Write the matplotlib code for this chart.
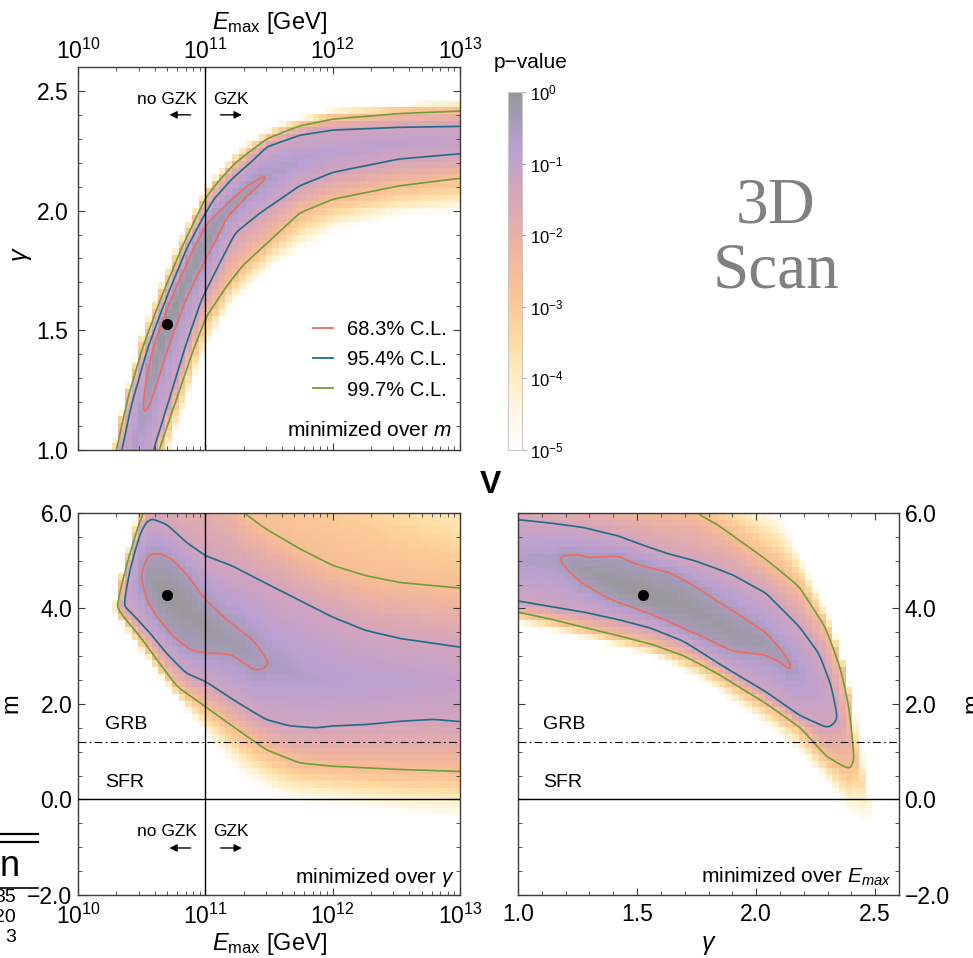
#!/usr/bin/env python3
import math
import numpy as np
import matplotlib
matplotlib.use("Agg")
from matplotlib import pyplot as plt
from matplotlib.colors import LinearSegmentedColormap, LogNorm
from matplotlib.cm import ScalarMappable
from matplotlib.lines import Line2D
from matplotlib.ticker import FixedLocator, MultipleLocator, FuncFormatter, NullLocator

plt.rcParams['font.family'] = ['Liberation Sans', 'DejaVu Sans']
plt.rcParams['mathtext.fontset'] = 'custom'
plt.rcParams['mathtext.rm'] = 'Liberation Sans'
plt.rcParams['mathtext.it'] = 'Liberation Sans:italic'
plt.rcParams['mathtext.bf'] = 'Liberation Sans:bold'

# ---- data ----------------------------------------------------------------
# each panel: a ridge line (centre of the valley, with its sigma value) and the
# lower/upper edges of the 1, 2, 3 sigma contours plus the edge where p -> 1e-5
# panel A: gamma vs log10(Emax/GeV), minimized over m
A_ridge_x = [10.0, 10.3, 10.5, 10.6, 10.7, 10.8, 10.9, 11.0, 11.2, 11.35, 11.503, 11.75, 12.0, 12.5, 13.0]
A_ridge_y = [0.10, 0.72, 1.147, 1.37, 1.53, 1.65, 1.76, 1.87, 2.017, 2.09, 2.145, 2.21, 2.25, 2.283, 2.295]
A_ridge_s = [1.6, 1.3, 1.0, 0.4, 0.0, 0.15, 0.3, 0.4, 0.6, 0.8, 1.0, 1.25, 1.4, 1.5, 1.6]
A_red_lo_x = [10.50, 10.54, 10.579, 10.697, 10.84, 11.0, 11.076, 11.168, 11.325, 11.469, 11.503]
A_red_lo_y = [1.147, 1.16, 1.21, 1.419, 1.628, 1.796, 1.87, 1.975, 2.061, 2.128, 2.145]
A_red_hi_x = [10.50, 10.503, 10.579, 10.724, 10.90, 11.0, 11.168, 11.325, 11.482, 11.503]
A_red_hi_y = [1.147, 1.22, 1.419, 1.628, 1.838, 1.943, 2.025, 2.103, 2.156, 2.145]
A_blue_lo_x = [10.0, 10.3, 10.605, 10.724, 10.84, 10.971, 11.10, 11.233, 11.429, 11.586, 11.741, 12.003, 12.526, 13.0]
A_blue_lo_y = [-0.07, 0.46, 1.0, 1.21, 1.419, 1.628, 1.768, 1.908, 1.991, 2.047, 2.103, 2.159, 2.215, 2.236]
A_blue_hi_x = [10.0, 10.338, 10.421, 10.544, 10.691, 10.848, 11.063, 11.20, 11.377, 11.479, 11.741, 12.003, 12.526, 13.0]
A_blue_hi_y = [0.26, 1.0, 1.21, 1.419, 1.628, 1.838, 2.047, 2.13, 2.215, 2.271, 2.32, 2.341, 2.351, 2.355]
A_green_lo_x = [10.0, 10.3, 10.63, 10.77, 10.906, 11.01, 11.168, 11.30, 11.482, 11.741, 12.003, 12.526, 13.0]
A_green_lo_y = [-0.2, 0.35, 1.0, 1.21, 1.419, 1.558, 1.68, 1.77, 1.86, 1.99, 2.047, 2.103, 2.135]
A_green_hi_x = [10.0, 10.298, 10.382, 10.50, 10.644, 10.809, 10.99, 11.10, 11.23, 11.479, 11.741, 12.003, 12.526, 13.0]
A_green_hi_y = [0.36, 1.0, 1.21, 1.419, 1.628, 1.838, 2.047, 2.125, 2.20, 2.299, 2.355, 2.383, 2.408, 2.418]
A_fade_lo_x = [10.0, 10.72, 10.9, 11.0, 11.2, 11.5, 12.0, 12.5, 13.0]
A_fade_lo_y = [-0.45, 1.0, 1.26, 1.41, 1.6, 1.75, 1.91, 1.97, 1.99]
A_fade_hi_x = [10.0, 10.26, 10.5, 10.8, 11.0, 11.3, 11.6, 12.0, 13.0]
A_fade_hi_y = [0.45, 1.0, 1.50, 1.90, 2.10, 2.28, 2.37, 2.43, 2.465]
A_best = (10.70, 1.527)

# panel B: m vs log10(Emax/GeV), minimized over gamma
B_ridge_x = [10.27, 10.30, 10.353, 10.497, 10.6, 10.7, 10.85, 11.0, 11.2, 11.374, 11.5, 11.8, 12.2, 12.6, 13.0]
B_ridge_y = [4.0, 4.04, 4.04, 4.7, 4.5, 4.29, 3.95, 3.6, 3.3, 3.0, 2.85, 2.6, 2.45, 2.45, 2.4]
B_ridge_s = [4.42, 3.0, 2.0, 1.0, 0.3, 0.0, 0.2, 0.3, 0.5, 0.8, 1.0, 1.2, 1.4, 1.5, 1.6]
B_red_lo_x = [10.497, 10.50, 10.537, 10.615, 10.746, 10.877, 11.0, 11.113, 11.217, 11.374, 11.453, 11.5]
B_red_lo_y = [4.7, 4.45, 4.18, 3.83, 3.41, 3.13, 3.06, 3.06, 3.03, 2.71, 2.71, 2.85]
B_red_hi_x = [10.497, 10.50, 10.563, 10.641, 10.746, 10.851, 11.0, 11.165, 11.27, 11.374, 11.453, 11.5]
B_red_hi_y = [4.7, 4.88, 5.14, 5.16, 5.02, 4.74, 4.18, 3.76, 3.55, 3.34, 3.06, 2.85]
B_blue_lo_x = [10.353, 10.432, 10.563, 10.694, 10.851, 11.0, 11.217, 11.479, 11.662, 11.87, 12.0, 12.26, 12.53, 12.79, 13.0]
B_blue_lo_y = [4.04, 3.83, 3.48, 3.06, 2.64, 2.47, 2.08, 1.66, 1.53, 1.49, 1.53, 1.56, 1.63, 1.67, 1.62]
B_blue_hi_x = [10.353, 10.37, 10.40, 10.44, 10.48, 10.53, 10.576, 10.694, 10.851, 11.0, 11.217, 11.479, 11.741, 12.0, 12.26, 12.53, 13.0]
B_blue_hi_y = [4.04, 4.4, 4.85, 5.25, 5.6, 5.82, 5.89, 5.75, 5.36, 5.09, 4.88, 4.53, 4.18, 3.83, 3.55, 3.38, 3.2]
B_green_lo_x = [10.30, 10.353, 10.484, 10.615, 10.77, 11.0, 11.217, 11.48, 11.74, 12.0, 12.53, 13.0]
B_green_lo_y = [4.04, 3.83, 3.41, 2.92, 2.36, 1.94, 1.53, 1.04, 0.76, 0.69, 0.62, 0.58]
B_green_hi_x = [10.30, 10.314, 10.353, 10.432, 10.51, 10.7, 11.0, 11.15, 11.296, 11.479, 11.741, 12.0, 12.26, 12.53, 13.0]
B_green_hi_y = [4.04, 4.32, 4.67, 5.36, 6.0, 6.9, 7.2, 6.8, 6.0, 5.64, 5.23, 4.88, 4.67, 4.53, 4.42]
B_fade_lo_x = [10.27, 10.30, 10.35, 10.5, 10.7, 11.0, 11.3, 11.6, 12.0, 12.5, 13.0]
B_fade_lo_y = [4.0, 3.85, 3.62, 3.05, 2.36, 1.35, 0.45, 0.0, -0.15, -0.3, -0.4]
B_fade_hi_x = [10.27, 10.30, 10.36, 10.43, 10.49, 10.7, 11.0, 11.5, 12.0, 12.5, 13.0]
B_fade_hi_y = [4.0, 4.3, 5.0, 5.7, 6.3, 8.0, 9.0, 9.5, 9.5, 8.0, 7.0]
B_best = (10.70, 4.29)

# panel C: m vs gamma, minimized over Emax
C_ridge_x = [1.0, 1.176, 1.3, 1.525, 1.7, 1.9, 2.05, 2.154, 2.25, 2.346, 2.415, 2.495]
C_ridge_y = [5.0, 5.05, 4.76, 4.29, 4.05, 3.53, 3.22, 2.75, 2.4, 1.70, 0.85, -0.45]
C_ridge_s = [1.15, 1.0, 0.3, 0.0, 0.2, 0.4, 0.6, 1.0, 1.5, 2.0, 3.0, 4.42]
C_red_lo_x = [1.176, 1.182, 1.251, 1.349, 1.419, 1.489, 1.559, 1.628, 1.698, 1.782, 1.838, 1.902, 2.042, 2.112, 2.133, 2.154]
C_red_lo_y = [5.05, 4.95, 4.60, 4.29, 4.12, 4.01, 3.87, 3.73, 3.56, 3.38, 3.24, 3.10, 3.03, 2.85, 2.70, 2.75]
C_red_hi_x = [1.176, 1.182, 1.251, 1.293, 1.419, 1.489, 1.559, 1.628, 1.698, 1.768, 1.838, 1.902, 2.042, 2.126, 2.154]
C_red_hi_y = [5.05, 5.11, 5.13, 5.06, 5.11, 4.95, 4.85, 4.78, 4.60, 4.39, 4.15, 3.95, 3.48, 3.0, 2.75]
C_blue_lo_x = [1.0, 1.14, 1.279, 1.419, 1.559, 1.698, 1.838, 2.042, 2.182, 2.293, 2.32, 2.346]
C_blue_lo_y = [4.13, 4.01, 3.91, 3.77, 3.59, 3.31, 2.85, 2.22, 1.73, 1.49, 1.52, 1.70]
C_blue_hi_x = [1.0, 1.14, 1.279, 1.419, 1.531, 1.628, 1.74, 1.838, 1.902, 2.042, 2.182, 2.266, 2.321, 2.342, 2.346]
C_blue_hi_y = [5.87, 5.79, 5.69, 5.51, 5.30, 5.13, 4.99, 4.82, 4.70, 4.32, 3.62, 3.06, 2.36, 1.80, 1.70]
C_green_lo_x = [1.0, 1.14, 1.279, 1.419, 1.559, 1.698, 1.838, 2.042, 2.182, 2.237, 2.293, 2.363, 2.398, 2.415]
C_green_lo_y = [3.92, 3.77, 3.59, 3.42, 3.24, 3.0, 2.64, 2.02, 1.53, 1.22, 0.90, 0.69, 0.62, 0.85]
C_green_hi_x = [1.0, 1.3, 1.6, 1.754, 1.838, 2.042, 2.182, 2.293, 2.363, 2.398, 2.412, 2.415]
C_green_hi_y = [6.5, 6.35, 6.2, 6.0, 5.76, 5.02, 4.46, 3.62, 2.71, 1.87, 1.18, 0.85]
C_fade_lo_x = [1.0, 1.279, 1.559, 1.763, 2.042, 2.182, 2.321, 2.391, 2.46, 2.495]
C_fade_lo_y = [3.66, 3.35, 3.0, 2.5, 1.53, 0.97, 0.2, -0.32, -0.55, -0.45]
C_fade_hi_x = [1.0, 1.5, 1.9, 2.10, 2.182, 2.321, 2.405, 2.46, 2.485, 2.495]
C_fade_hi_y = [7.2, 7.0, 6.6, 6.0, 5.2, 3.7, 2.23, 0.7, -0.2, -0.45]
C_best = (1.525, 4.29)

levels = [1.0, 2.0, 3.0]          # sigma of the 68.3 / 95.4 / 99.7 % C.L. lines
fade_level = 4.42                 # p = 1e-5
cl_labels = ['68.3% C.L.', '95.4% C.L.', '99.7% C.L.']
cb_ticks = [1e-5, 1e-4, 1e-3, 1e-2, 1e-1, 1e0]
m_ticks = [-2.0, 0.0, 2.0, 4.0, 6.0]
grb_m, sfr_m = 1.2, 0.0

RED, BLUE, GREEN = '#EF6B5F', '#1E6C8A', '#6E9E3A'
EDGE = '#3a3a3a'

cmap = LinearSegmentedColormap.from_list('pval', [
    (0.00, '#ffffff'), (0.10, '#fff8e6'), (0.20, '#ffeec4'), (0.31, '#fedba2'),
    (0.40, '#fcc996'), (0.51, '#f6bb96'), (0.60, '#e9b0a6'), (0.71, '#d7a6b8'),
    (0.80, '#c4a2c8'), (0.85, '#b9a0d2'), (0.92, '#a69bb6'), (1.00, '#979798')])
cmap.set_under('white')
norm = LogNorm(1e-5, 1.0)

erfc = np.vectorize(math.erfc)


def sigma_field(xc, yc, ridge, bands):
    rx, ry, rs = ridge
    S = np.full((len(yc), len(xc)), 4.5)
    for j, x in enumerate(xc):
        if x < rx[0] or x > rx[-1]:
            continue
        lo, hi = [], []
        for lev, (lx, ly), (hx, hy) in bands:
            if lx[0] <= x <= lx[-1] and hx[0] <= x <= hx[-1]:
                lo.append((np.interp(x, lx, ly), lev))
                hi.append((np.interp(x, hx, hy), lev))
        pts = lo[::-1] + [(np.interp(x, rx, ry), np.interp(x, rx, rs))] + hi
        S[:, j] = np.interp(yc, [p[0] for p in pts], [p[1] for p in pts])
    return S


def blur(S, sig):
    r = int(3 * sig)
    k = np.exp(-0.5 * (np.arange(-r, r + 1) / sig) ** 2)
    k /= k.sum()
    P = np.pad(S, r, mode='edge')
    P = np.apply_along_axis(lambda v: np.convolve(v, k, mode='valid'), 0, P)
    P = np.apply_along_axis(lambda v: np.convolve(v, k, mode='valid'), 1, P)
    return P


def draw_map(ax, ridge, bands, xlim, ylim, logx):
    xe = np.linspace(xlim[0], xlim[1], 58)
    ye = np.linspace(ylim[0], ylim[1], 58)
    xc = 0.5 * (xe[1:] + xe[:-1])
    yc = 0.5 * (ye[1:] + ye[:-1])
    P = erfc(sigma_field(xc, yc, ridge, bands) / math.sqrt(2))
    ax.pcolormesh(10**xe if logx else xe, ye, P, cmap=cmap, norm=norm,
                  shading='flat', rasterized=True, zorder=0)
    xf = np.linspace(xlim[0], xlim[1], 700)
    yf = np.linspace(ylim[0], ylim[1], 700)
    Sf = blur(sigma_field(xf, yf, ridge, bands), 4)
    ax.contour(10**xf if logx else xf, yf, Sf, levels=levels,
               colors=[RED, BLUE, GREEN], linewidths=1.2, zorder=2)


def style(ax, pad):
    for s in ax.spines.values():
        s.set_color(EDGE)
        s.set_linewidth(1.0)
    ax.tick_params(which='both', direction='in', top=True, bottom=True,
                   left=True, right=True, color=EDGE, labelsize=16.5, pad=pad)
    ax.tick_params(which='major', length=5)
    ax.tick_params(which='minor', length=3)


fmt = FuncFormatter(lambda v, _: f'{v:.1f}'.replace('-', '\u2212'))

fig = plt.figure(figsize=(9.73, 9.58), dpi=100)
axA = fig.add_axes([0.0802, 0.5303, 0.3926, 0.3998])
axB = fig.add_axes([0.0802, 0.0658, 0.3926, 0.3987])
axC = fig.add_axes([0.5324, 0.0658, 0.3916, 0.3987])
cax = fig.add_axes([0.5221, 0.5303, 0.0144, 0.3737])

bandsA = [(1, (A_red_lo_x, A_red_lo_y), (A_red_hi_x, A_red_hi_y)),
          (2, (A_blue_lo_x, A_blue_lo_y), (A_blue_hi_x, A_blue_hi_y)),
          (3, (A_green_lo_x, A_green_lo_y), (A_green_hi_x, A_green_hi_y)),
          (fade_level, (A_fade_lo_x, A_fade_lo_y), (A_fade_hi_x, A_fade_hi_y))]
bandsB = [(1, (B_red_lo_x, B_red_lo_y), (B_red_hi_x, B_red_hi_y)),
          (2, (B_blue_lo_x, B_blue_lo_y), (B_blue_hi_x, B_blue_hi_y)),
          (3, (B_green_lo_x, B_green_lo_y), (B_green_hi_x, B_green_hi_y)),
          (fade_level, (B_fade_lo_x, B_fade_lo_y), (B_fade_hi_x, B_fade_hi_y))]
bandsC = [(1, (C_red_lo_x, C_red_lo_y), (C_red_hi_x, C_red_hi_y)),
          (2, (C_blue_lo_x, C_blue_lo_y), (C_blue_hi_x, C_blue_hi_y)),
          (3, (C_green_lo_x, C_green_lo_y), (C_green_hi_x, C_green_hi_y)),
          (fade_level, (C_fade_lo_x, C_fade_lo_y), (C_fade_hi_x, C_fade_hi_y))]

# ---- panel A ---------------------------------------------------------------
axA.set_xscale('log')
draw_map(axA, (A_ridge_x, A_ridge_y, A_ridge_s), bandsA, (10, 13), (1.0, 2.6), True)
axA.set_xlim(1e10, 1e13)
axA.set_ylim(1.0, 2.6)
style(axA, 7)
axA.tick_params(axis='x', pad=2)
axA.tick_params(labeltop=True, labelbottom=False)
axA.xaxis.set_label_position('top')
axA.yaxis.set_major_locator(FixedLocator([1.0, 1.5, 2.0, 2.5]))
axA.yaxis.set_minor_locator(MultipleLocator(0.1))
axA.yaxis.set_major_formatter(fmt)
axA.set_xlabel(r'$E_{\rm max}$ [GeV]', fontsize=17)
axA.xaxis.set_label_coords(0.5, 1.10)
axA.set_ylabel(r'$\gamma$', fontsize=18)
axA.yaxis.set_label_coords(-0.115, 0.51)
axA.axvline(1e11, color='k', lw=1.0, zorder=3)
axA.plot(10**A_best[0], A_best[1], 'o', color='k', ms=7, zorder=5)
axA.text(0.311, 0.916, 'no GZK', transform=axA.transAxes, ha='right', va='center', fontsize=12.5)
axA.text(0.353, 0.916, 'GZK', transform=axA.transAxes, ha='left', va='center', fontsize=12.5)
axA.annotate('', xy=(0.232, 0.875), xytext=(0.302, 0.875), xycoords='axes fraction',
             arrowprops=dict(arrowstyle='-|>', color='k', lw=1, mutation_scale=11))
axA.annotate('', xy=(0.436, 0.875), xytext=(0.366, 0.875), xycoords='axes fraction',
             arrowprops=dict(arrowstyle='-|>', color='k', lw=1, mutation_scale=11))
handles = [Line2D([], [], color=c, lw=1.3, label=l) for c, l in zip([RED, BLUE, GREEN], cl_labels)]
axA.legend(handles=handles, loc='center left', bbox_to_anchor=(0.615, 0.235), frameon=False,
           fontsize=14.5, handlelength=1.0, handletextpad=0.7, labelspacing=0.55,
           borderpad=0, borderaxespad=0)
axA.text(0.979, 0.05, 'minimized over $m$', transform=axA.transAxes, ha='right', va='center', fontsize=15)

# ---- panel B ---------------------------------------------------------------
axB.set_xscale('log')
draw_map(axB, (B_ridge_x, B_ridge_y, B_ridge_s), bandsB, (10, 13), (-2.0, 6.0), True)
axB.set_xlim(1e10, 1e13)
axB.set_ylim(-2.0, 6.0)
style(axB, 4)
axB.tick_params(axis='x', pad=6)
axB.yaxis.set_major_locator(FixedLocator(m_ticks))
axB.yaxis.set_minor_locator(MultipleLocator(0.5))
axB.yaxis.set_major_formatter(fmt)
axB.set_xlabel(r'$E_{\rm max}$ [GeV]', fontsize=17)
axB.xaxis.set_label_coords(0.5, -0.094)
axB.set_ylabel('m', fontsize=17)
axB.yaxis.set_label_coords(-0.145, 0.503)
axB.axvline(1e11, color='k', lw=1.0, zorder=3)
axB.axhline(sfr_m, color='k', lw=1.0, zorder=3)
axB.axhline(grb_m, color='k', lw=0.8, dashes=(7, 3, 1.5, 3), zorder=3)
axB.plot(10**B_best[0], B_best[1], 'o', color='k', ms=7, zorder=5)
axB.text(0.07, 1.58, 'GRB', transform=axB.get_yaxis_transform(), ha='left', va='center', fontsize=14)
axB.text(0.07, 0.36, 'SFR', transform=axB.get_yaxis_transform(), ha='left', va='center', fontsize=14)
axB.text(0.311, 0.165, 'no GZK', transform=axB.transAxes, ha='right', va='center', fontsize=12.5)
axB.text(0.353, 0.165, 'GZK', transform=axB.transAxes, ha='left', va='center', fontsize=12.5)
axB.annotate('', xy=(0.232, 0.123), xytext=(0.302, 0.123), xycoords='axes fraction',
             arrowprops=dict(arrowstyle='-|>', color='k', lw=1, mutation_scale=11))
axB.annotate('', xy=(0.436, 0.123), xytext=(0.366, 0.123), xycoords='axes fraction',
             arrowprops=dict(arrowstyle='-|>', color='k', lw=1, mutation_scale=11))
axB.text(0.985, 0.047, r'minimized over $\gamma$', transform=axB.transAxes, ha='right', va='center', fontsize=15)

# ---- panel C ---------------------------------------------------------------
draw_map(axC, (C_ridge_x, C_ridge_y, C_ridge_s), bandsC, (1.0, 2.6), (-2.0, 6.0), False)
axC.set_xlim(1.0, 2.6)
axC.set_ylim(-2.0, 6.0)
style(axC, 4)
axC.tick_params(axis='x', pad=6)
axC.tick_params(labelleft=False, labelright=True)
axC.xaxis.set_major_locator(FixedLocator([1.0, 1.5, 2.0, 2.5]))
axC.xaxis.set_minor_locator(MultipleLocator(0.1))
axC.xaxis.set_major_formatter(fmt)
axC.yaxis.set_major_locator(FixedLocator(m_ticks))
axC.yaxis.set_minor_locator(MultipleLocator(0.5))
axC.yaxis.set_major_formatter(fmt)
axC.set_xlabel(r'$\gamma$', fontsize=18)
axC.xaxis.set_label_coords(0.5, -0.1)
axC.yaxis.set_label_position('right')
axC.set_ylabel('m', fontsize=17, rotation=90)
axC.yaxis.set_label_coords(1.165, 0.503)
axC.axhline(sfr_m, color='k', lw=1.0, zorder=3)
axC.axhline(grb_m, color='k', lw=0.8, dashes=(7, 3, 1.5, 3), zorder=3)
axC.plot(C_best[0], C_best[1], 'o', color='k', ms=7, zorder=5)
axC.text(0.066, 1.58, 'GRB', transform=axC.get_yaxis_transform(), ha='left', va='center', fontsize=14)
axC.text(0.066, 0.36, 'SFR', transform=axC.get_yaxis_transform(), ha='left', va='center', fontsize=14)
axC.text(0.98, 0.047, r'minimized over $E_{max}$', transform=axC.transAxes, ha='right', va='center', fontsize=15)

# ---- colour bar --------------------------------------------------------------
cb = fig.colorbar(ScalarMappable(norm=norm, cmap=cmap), cax=cax)
cb.set_ticks(cb_ticks)
cax.yaxis.set_minor_locator(NullLocator())
cb.outline.set_edgecolor('#c8c8c8')
cb.outline.set_linewidth(0.8)
cax.tick_params(which='major', length=3, color='#b0b0b0', labelsize=12, pad=3)
fig.text(531 / 973, 1 - 62 / 958, 'p\u2212value', ha='center', va='center', fontsize=15)

# ---- loose text ----------------------------------------------------------------
fig.text(776 / 973, 1 - 239 / 958, '3D\nScan', ha='center', va='center', fontsize=47,
         family='Liberation Serif', color='#808080', linespacing=1.13)
fig.text(490 / 973, 1 - 485 / 958, 'V', ha='center', va='center', fontsize=23, fontweight='bold')

# pieces of the neighbouring table cut by the left border
for yy in [834, 842]:
    fig.add_artist(Line2D([0, 38 / 973], [1 - yy / 958] * 2, color='k', lw=1.6))
fig.add_artist(Line2D([0, 38 / 973], [1 - 888 / 958] * 2, color='k', lw=1.2))
fig.text(20 / 973, 1 - 867 / 958, 'n', ha='right', va='center', fontsize=26)
for yy, tx in [(898, '35'), (918, '20'), (938, '3')]:
    fig.text(16 / 973, 1 - yy / 958, tx, ha='right', va='center', fontsize=14)

fig.savefig('out.png', dpi=100, facecolor='white')
